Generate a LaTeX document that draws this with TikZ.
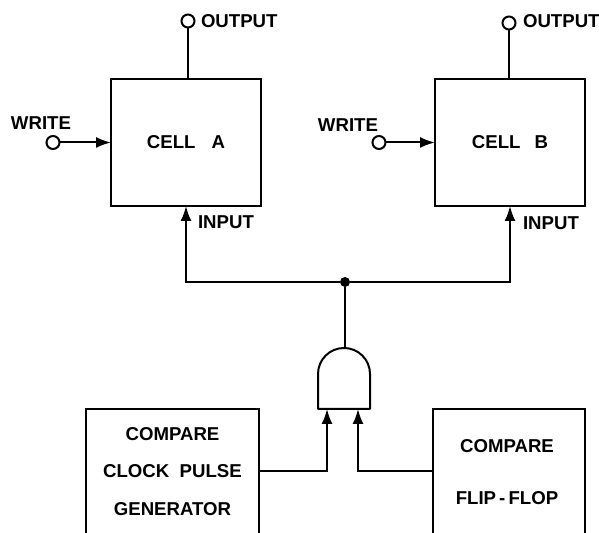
\documentclass[tikz,border=0pt]{standalone}
\usepackage{fontspec}
\setmainfont{Liberation Sans}
\usetikzlibrary{arrows.meta}
\tikzset{
  every node/.style={outer sep=0pt},
  wire/.style={line width=0.04cm,black},
  arrowwire/.style={wire,-{Latex[length=0.3cm,width=0.22cm]}},
  cellbox/.style={draw,line width=0.04cm,minimum width=3cm,minimum height=2.54cm,inner sep=0pt},
  openbox/.style={minimum height=2.48cm,inner sep=0pt},
  terminal/.style={draw,circle,line width=0.04cm,minimum size=0.26cm,inner sep=0pt},
  junction/.style={fill=black,circle,minimum size=0.2cm,inner sep=0pt},
  label/.style={font=\fontsize{10.6}{12.7}\selectfont\bfseries,inner sep=0pt},
}
\begin{document}
\begin{tikzpicture}
    \useasboundingbox (0,0) rectangle (11.98,10.66);
    % memory cells
    \node[cellbox,label] (cella) at (3.72,7.81) {CELL\hspace{0.32cm}A};
    \node[cellbox,label] (cellb) at (10.2,7.81) {CELL\hspace{0.28cm}B};
    \node[terminal] (outa) at (3.76,10.24) {};
    \node[terminal] (outb) at (10.18,10.2) {};
    \node[label,anchor=west] (outalabel) at (4.02,10.24) {OUTPUT};
    \node[label,anchor=west] (outblabel) at (10.46,10.24) {OUTPUT};
    \node[terminal] (writea) at (1.06,7.81) {};
    \node[terminal] (writeb) at (7.58,7.81) {};
    \node[label] (writealabel) at (0.82,8.2) {WRITE};
    \node[label] (writeblabel) at (6.96,8.16) {WRITE};
    \node[label,anchor=west] (inalabel) at (3.96,6.22) {INPUT};
    \node[label,anchor=west] (inblabel) at (10.46,6.2) {INPUT};
    % gate and its sources
    \node[junction] (bus) at (6.9,5.02) {};
    \node[minimum width=1.04cm,minimum height=1.22cm,inner sep=0pt] (gate) at (6.88,3.09) {};
    \coordinate (gatea) at (6.54,2.48);
    \coordinate (gateb) at (7.16,2.48);
    \node[openbox,minimum width=3.46cm] (clock) at (3.45,1.24) {};
    \node[openbox,minimum width=3.04cm] (flipflop) at (10.18,1.24) {};
    \node[label,align=center] (clocktext) at (3.45,1.23)
      {COMPARE\\[0.3cm]CLOCK\ \ PULSE\\[0.3cm]GENERATOR};
    \node[label,align=center] (fliptext) at (10.14,1.21)
      {COMPARE\\[0.59cm]FLIP\,-\,FLOP};
    % outlines
    \draw[wire] (clock.south west) |- (clock.north east) -- (clock.south east);
    \draw[wire] (flipflop.south west) |- (flipflop.north east) -- (flipflop.south east);
    \draw[wire,line join=round] (gate.south west) -- ++(0,0.7) arc[start angle=180,end angle=0,radius=0.52] -- (gate.south east) -- cycle;
    % connectors
    \draw[wire] (outa) -- (outa |- cella.north);
    \draw[wire] (outb) -- (outb |- cellb.north);
    \draw[arrowwire] (writea) -- (writea -| cella.west);
    \draw[arrowwire] (writeb) -- (writeb -| cellb.west);
    \draw[arrowwire] (bus) -| (cella.south);
    \draw[arrowwire] (bus) -| (cellb.south);
    \draw[wire] (bus) -- (bus |- gate.north);
    \draw[arrowwire] (clock.east) -| (gatea);
    \draw[arrowwire] (flipflop.west) -| (gateb);
\end{tikzpicture}
\end{document}
